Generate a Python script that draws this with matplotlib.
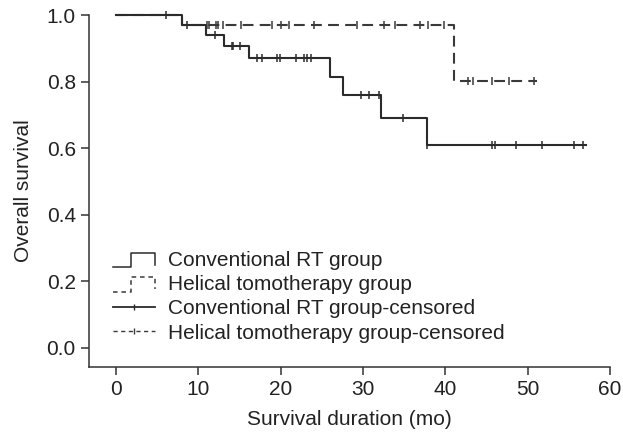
import matplotlib
matplotlib.use("Agg")
import matplotlib.pyplot as plt
from matplotlib.lines import Line2D
from matplotlib.legend_handler import HandlerBase

plt.rcParams['font.family'] = ['Liberation Sans', 'DejaVu Sans']

# Conventional RT group (step curve)
conv_t = [0, 8.07, 10.9, 13.1, 16.1, 26.0, 27.6, 32.2, 37.8, 57.1]
conv_s = [1.0, 0.970, 0.941, 0.908, 0.871, 0.814, 0.760, 0.690, 0.609, 0.609]
conv_cens_t = [6.1, 8.6, 12.05, 14.06, 14.25, 15.1, 17.07, 17.75, 19.6, 19.9, 21.8,
               22.8, 23.25, 23.65, 29.8, 30.7, 31.9, 34.8, 37.8, 45.7, 46.0,
               48.55, 51.7, 55.6, 56.7]
conv_cens_s = [1.0, 0.970, 0.941, 0.908, 0.908, 0.908, 0.871, 0.871, 0.871, 0.871, 0.871,
               0.871, 0.871, 0.871, 0.760, 0.760, 0.760, 0.690, 0.609, 0.609, 0.609,
               0.609, 0.609, 0.609, 0.609]

# Helical tomotherapy group
heli_t = [0, 8.07, 41.1, 51.1]
heli_s = [1.0, 0.970, 0.803, 0.803]
heli_cens_t = [11.0, 11.3, 12.1, 12.4, 13.05, 15.2, 19.0, 20.0, 21.0, 24.0, 29.3,
               32.5, 33.9, 36.9, 37.9, 39.8, 42.8, 43.4, 45.7, 47.7, 50.8]
heli_cens_s = [0.970] * 16 + [0.803] * 5

labels = ["Conventional RT group", "Helical tomotherapy group",
          "Conventional RT group-censored", "Helical tomotherapy group-censored"]

xticks = [0, 10, 20, 30, 40, 50, 60]
yticks = [0.0, 0.2, 0.4, 0.6, 0.8, 1.0]

col_solid = '#2b2b2b'
col_dash = '#3a3a3a'
DASH = (5.2, 3.0)
LW = 1.5
FS = 15

fig = plt.figure(figsize=(6.23, 4.40), dpi=100)
ax = fig.add_axes([0.1429, 0.1655, 0.8363, 0.8004])

ax.step(heli_t, heli_s, where='post', color=col_dash, lw=LW, linestyle=(0, DASH),
        clip_on=False, zorder=2)
ax.step(conv_t, conv_s, where='post', color=col_solid, lw=LW, clip_on=False, zorder=3)
ax.plot(conv_cens_t, conv_cens_s, linestyle='none', marker='|', markersize=6,
        markeredgewidth=1.1, color=col_solid, clip_on=False, zorder=4)
ax.plot(heli_cens_t, heli_cens_s, linestyle='none', marker='|', markersize=6,
        markeredgewidth=1.1, color=col_dash, clip_on=False, zorder=4)

ax.set_xlim(-3.28, 60)
ax.set_ylim(-0.058, 1.0)
ax.set_xticks(xticks)
ax.set_yticks(yticks)
ax.set_xticklabels([str(v) for v in xticks])
ax.set_yticklabels([f"{v:.1f}" for v in yticks])
ax.spines['top'].set_visible(False)
ax.spines['right'].set_visible(False)
for s in ('left', 'bottom'):
    ax.spines[s].set_color('#333333')
    ax.spines[s].set_linewidth(1.1)
ax.tick_params(direction='out', length=5.5, width=1.1, color='#333333',
               labelsize=FS, labelcolor='#222222', pad=4)
ax.set_xlabel("Survival duration (mo)", fontsize=FS, color='#222222', labelpad=8)
ax.set_ylabel("Overall survival", fontsize=FS, color='#222222', labelpad=10)


class StepHandler(HandlerBase):
    def __init__(self, dashed=False):
        super().__init__()
        self.dashed = dashed

    def create_artists(self, legend, orig_handle, xdescent, ydescent, width, height,
                       fontsize, trans):
        x0, y0 = -xdescent, -ydescent - 0.1 * height
        h = height * 1.0
        xs = [x0, x0 + 0.44 * width, x0 + 0.44 * width, x0 + width, x0 + width]
        ys = [y0, y0, y0 + h, y0 + h, y0 + 0.18 * h]
        ln = Line2D(xs, ys, color=orig_handle.get_color(), lw=1.1, transform=trans)
        if self.dashed:
            ln.set_linestyle((0, (3.0, 2.5)))
        return [ln]


class CensHandler(HandlerBase):
    def __init__(self, dashed=False):
        super().__init__()
        self.dashed = dashed

    def create_artists(self, legend, orig_handle, xdescent, ydescent, width, height,
                       fontsize, trans):
        x0 = -xdescent
        yc = -ydescent + 0.5 * height
        ln = Line2D([x0, x0 + width], [yc, yc], color=orig_handle.get_color(),
                    lw=1.3 if not self.dashed else 1.0, transform=trans)
        if self.dashed:
            ln.set_linestyle((0, (3.0, 2.5)))
        mk = Line2D([x0 + 0.5 * width], [yc], marker='|', markersize=5,
                    markeredgewidth=1.0, color=orig_handle.get_color(),
                    linestyle='none', transform=trans)
        return [ln, mk]


h1 = Line2D([], [], color=col_solid)
h2 = Line2D([], [], color=col_dash)
h3 = Line2D([], [], color=col_solid)
h4 = Line2D([], [], color=col_dash)
ax.legend([h1, h2, h3, h4], labels,
          handler_map={h1: StepHandler(False), h2: StepHandler(True),
                       h3: CensHandler(False), h4: CensHandler(True)},
          loc='lower left', bbox_to_anchor=(0.046, 0.07), frameon=False,
          fontsize=FS, borderpad=0, borderaxespad=0, handlelength=2.0,
          handletextpad=0.63, labelspacing=0.25, labelcolor='#222222')

fig.savefig("out.png", dpi=100)
